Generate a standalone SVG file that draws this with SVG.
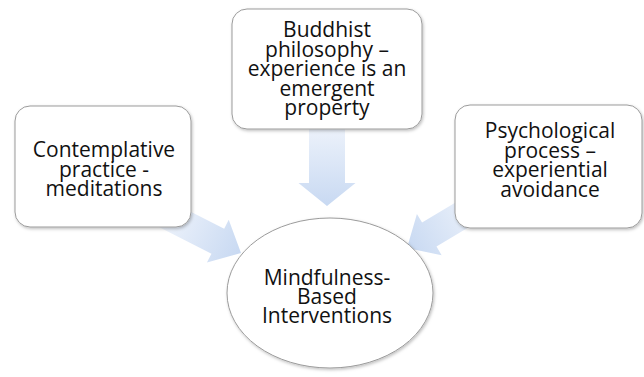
<svg xmlns="http://www.w3.org/2000/svg" width="644" height="377" viewBox="0 0 644 377">
<defs>
<linearGradient id="arrowGrad" x1="0" y1="0" x2="0" y2="1">
<stop offset="0" stop-color="#eef3fb"/>
<stop offset="1" stop-color="#c8d9f2"/>
</linearGradient>
<filter id="shadow" x="-10%" y="-10%" width="125%" height="125%">
<feDropShadow dx="1" dy="1.5" stdDeviation="1.5" flood-color="#000" flood-opacity="0.25"/>
</filter>
</defs>
<style>
.box{fill:#ffffff;stroke:#9b9b9b;stroke-width:1;filter:url(#shadow);}
.arrow{fill:url(#arrowGrad);stroke:none;}
.lbl{font-family:"Open Sans","Liberation Sans",sans-serif;font-size:21px;fill:#111;text-anchor:middle;}
</style>
<rect width="644" height="377" fill="#ffffff"/>
<g id="connectors">
<path class="arrow" transform="translate(327,206)" d="M-18,-82 L18,-82 L18,-23 L28.5,-23 L0,0 L-28.5,-23 L-18,-23 Z"/>
<path class="arrow" transform="translate(241,253) rotate(-63)" d="M-14,-85 L14,-85 L14,-26 L24,-26 L0,0 L-24,-26 L-14,-26 Z"/>
<path class="arrow" transform="translate(407,248) rotate(59)" d="M-14,-85 L14,-85 L14,-26 L24,-26 L0,0 L-24,-26 L-14,-26 Z"/>
</g>
<g id="node-contemplative">
<rect class="box" x="15" y="106" width="176" height="121" rx="15" ry="15"/>
<text class="lbl"><tspan x="104" y="157">Contemplative</tspan><tspan x="104" y="176.5">practice -</tspan><tspan x="104" y="196">meditations</tspan></text>
</g>
<g id="node-buddhist">
<rect class="box" x="232" y="9" width="190" height="120" rx="15" ry="15"/>
<text class="lbl"><tspan x="327" y="37">Buddhist</tspan><tspan x="327" y="56.5">philosophy –</tspan><tspan x="327" y="76">experience is an</tspan><tspan x="327" y="95.5">emergent</tspan><tspan x="327" y="115">property</tspan></text>
</g>
<g id="node-psychological">
<rect class="box" x="455" y="105" width="187" height="123" rx="15" ry="15"/>
<text class="lbl"><tspan x="550" y="138">Psychological</tspan><tspan x="550" y="157.5">process –</tspan><tspan x="550" y="177">experiential</tspan><tspan x="550" y="196.5">avoidance</tspan></text>
</g>
<g id="node-mbi">
<ellipse class="box" cx="330" cy="293" rx="103" ry="75"/>
<text class="lbl"><tspan x="327" y="285">Mindfulness-</tspan><tspan x="327" y="304">Based</tspan><tspan x="327" y="323">Interventions</tspan></text>
</g>
</svg>
